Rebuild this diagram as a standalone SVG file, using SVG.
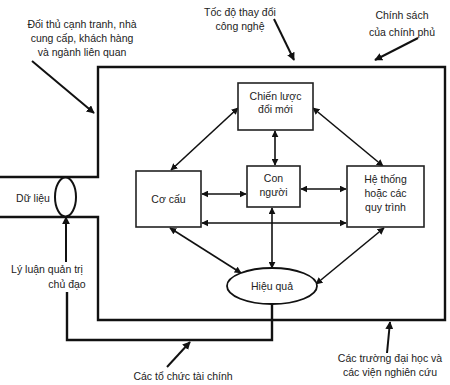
<svg xmlns="http://www.w3.org/2000/svg" width="450" height="385" viewBox="0 0 450 385">
<defs>
<marker id="ah" viewBox="0 0 10 10" refX="9" refY="5" markerWidth="7" markerHeight="7" markerUnits="userSpaceOnUse" orient="auto-start-reverse">
<path d="M0,0 L10,5 L0,10 z" fill="#111"/>
</marker>
<marker id="ahb" viewBox="0 0 10 10" refX="9" refY="5" markerWidth="8" markerHeight="8" markerUnits="userSpaceOnUse" orient="auto-start-reverse">
<path d="M0,0 L10,5 L0,10 z" fill="#111"/>
</marker>
<style>
text{font-family:"Liberation Sans",Arial,sans-serif;font-size:10.5px;fill:#222;text-anchor:middle}
.box{fill:#fff;stroke:#222;stroke-width:1.6}
.frame{fill:none;stroke:#111;stroke-width:2.4}
.link{fill:none;stroke:#111;stroke-width:1.6;marker-start:url(#ah);marker-end:url(#ah)}
.ext{fill:none;stroke:#111;stroke-width:2;marker-end:url(#ahb)}
</style>
</defs>
<rect width="450" height="385" fill="#fff"/>
<g id="frame">
<path class="frame" d="M0,177 H98 V67 H445 V320 H98 V217 H0"/>
<path class="frame" d="M272,304 V340 H67 V292"/>
</g>
<g id="connectors">
<line class="link" x1="171" y1="170" x2="238" y2="108"/>
<line class="link" x1="275" y1="131" x2="275" y2="165"/>
<line class="link" x1="313" y1="108" x2="383" y2="166"/>
<line class="link" x1="202" y1="194" x2="246" y2="194"/>
<line class="link" x1="301" y1="189" x2="346" y2="189"/>
<line class="link" x1="202" y1="223" x2="346" y2="223"/>
<line class="link" x1="272" y1="208" x2="272" y2="268"/>
<line class="link" x1="170" y1="228" x2="241" y2="273"/>
<line class="link" x1="384" y1="228" x2="316" y2="284"/>
<line class="ext" x1="66" y1="262" x2="66" y2="217"/>
<line class="ext" x1="32" y1="61" x2="94" y2="113"/>
<line class="ext" x1="274" y1="19" x2="294" y2="60"/>
<line class="ext" x1="418" y1="38" x2="375" y2="60"/>
<line class="ext" x1="167" y1="367" x2="190" y2="342"/>
<line class="ext" x1="387" y1="353" x2="390" y2="322"/>
</g>
<g id="du-lieu">
<ellipse cx="65.5" cy="197" rx="10.5" ry="19.5" fill="#fff" stroke="#111" stroke-width="2"/>
<text x="33" y="202">Dữ liệu</text>
</g>
<g id="chien-luoc">
<rect class="box" x="238" y="83" width="75" height="47"/>
<text x="275.5" y="100">Chiến lược</text>
<text x="275.5" y="113">đổi mới</text>
</g>
<g id="con-nguoi">
<rect class="box" x="247" y="166" width="53" height="41"/>
<text x="273.5" y="182">Con</text>
<text x="273.5" y="196">người</text>
</g>
<g id="co-cau">
<rect class="box" x="136" y="171" width="65" height="56"/>
<text x="168.5" y="203">Cơ cấu</text>
</g>
<g id="he-thong">
<rect class="box" x="347" y="166" width="77" height="61"/>
<text x="385.5" y="183">Hệ thống</text>
<text x="385.5" y="197">hoặc các</text>
<text x="385.5" y="211">quy trình</text>
</g>
<g id="hieu-qua">
<ellipse cx="272" cy="286" rx="45" ry="18" fill="#fff" stroke="#111" stroke-width="1.8"/>
<text x="272" y="290">Hiệu quả</text>
</g>
<g id="labels">
<text x="82" y="28">Đối thủ cạnh tranh, nhà</text>
<text x="82" y="42">cung cấp, khách hàng</text>
<text x="82" y="56">và ngành liên quan</text>
<text x="240" y="16">Tốc độ thay đổi</text>
<text x="240" y="30">công nghệ</text>
<text x="402" y="19">Chính sách</text>
<text x="402" y="36">của chính phủ</text>
<text x="47" y="273">Lý luận quản trị</text>
<text x="67" y="288">chủ đạo</text>
<text x="183" y="380">Các tổ chức tài chính</text>
<text x="390" y="362">Các trường đại học và</text>
<text x="390" y="376">các viện nghiên cứu</text>
</g>
</svg>
